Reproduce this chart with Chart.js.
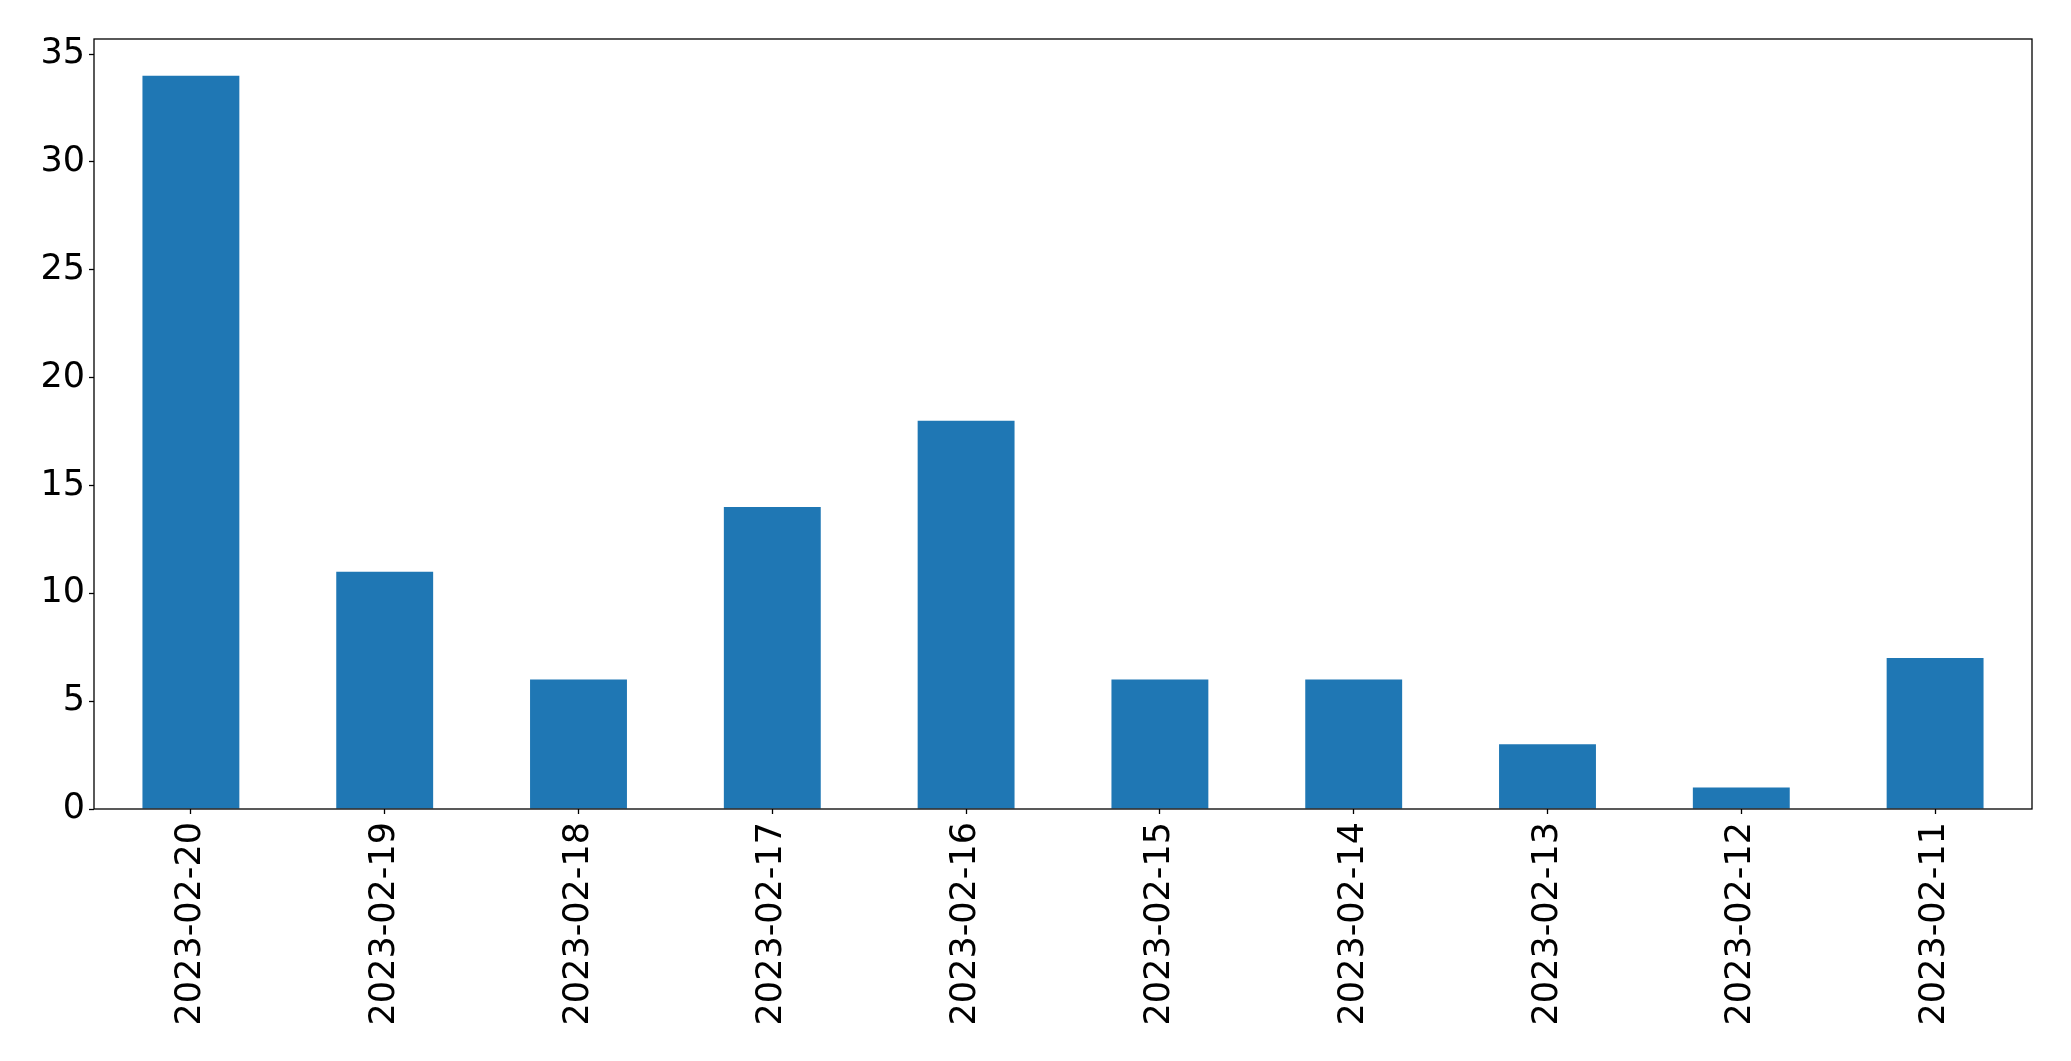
<!DOCTYPE html>
<html>
<head>
<meta charset="utf-8">
<script src="https://cdn.jsdelivr.net/npm/chart.js@4"></script>
<style>
  html, body { margin: 0; padding: 0; background: #fff; }
  #wrap { width: 2071px; height: 1061px; }
</style>
</head>
<body>
<div id="wrap"><canvas id="chart"></canvas></div>
<script>
const dates = ["2023-02-20", "2023-02-19", "2023-02-18", "2023-02-17", "2023-02-16",
               "2023-02-15", "2023-02-14", "2023-02-13", "2023-02-12", "2023-02-11"];
const counts = [34, 11, 6, 14, 18, 6, 6, 3, 1, 7];
const yTicks = [0, 5, 10, 15, 20, 25, 30, 35];

// kotak hitam keliling kawasan plot (macam matplotlib)
const frame = {
    id: "frame",
    afterDraw(chart) {
        const { ctx, chartArea: a } = chart;
        ctx.save();
        ctx.strokeStyle = "#000";
        ctx.lineWidth = 1.3;
        ctx.strokeRect(a.left, a.top, a.right - a.left, a.bottom - a.top);
        ctx.restore();
    }
};

Chart.defaults.font.family = "'DejaVu Sans', sans-serif";
Chart.defaults.color = "#000";

new Chart(document.getElementById("chart"), {
    type: "bar",
    data: {
        labels: dates,
        datasets: [{
            data: counts,
            backgroundColor: "#1f77b4",
            categoryPercentage: 1,
            barPercentage: 0.5
        }]
    },
    options: {
        responsive: true,
        maintainAspectRatio: false,
        animation: false,
        layout: { padding: { left: 0, top: 39, right: 39, bottom: 0 } },
        plugins: { legend: { display: false }, tooltip: { enabled: false } },
        scales: {
            x: {
                grid: { offset: false, drawOnChartArea: false, tickLength: 5, tickColor: "#000", tickWidth: 1.3 },
                border: { display: false },
                ticks: { font: { size: 35 }, minRotation: 90, maxRotation: 90, padding: 8 },
                afterFit: s => { s.height = 252; }
            },
            y: {
                min: 0,
                max: 35.7,
                grid: { drawOnChartArea: false, tickLength: 5, tickColor: "#000", tickWidth: 1.3 },
                border: { display: false },
                ticks: { font: { size: 35 }, padding: 4 },
                afterBuildTicks: s => { s.ticks = yTicks.map(v => ({ value: v })); },
                afterFit: s => { s.width = 94; }
            }
        }
    },
    plugins: [frame]
});
</script>
</body>
</html>
